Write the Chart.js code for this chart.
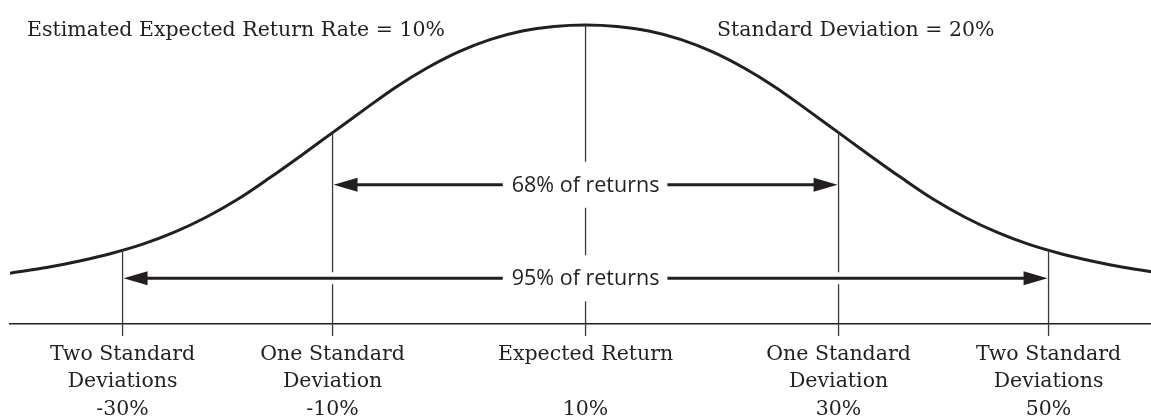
<!DOCTYPE html>
<html>
<head>
<meta charset="utf-8">
<script src="https://cdn.jsdelivr.net/npm/chart.js@4.4.1/dist/chart.umd.min.js"></script>
<style>
    html, body { margin: 0; padding: 0; background: #fff; }
    #wrap { width: 1151px; height: 420px; position: relative; }
</style>
</head>
<body>
<div id="wrap"><canvas id="returnsChart"></canvas></div>
<script>
// return (%) and relative height of the bell curve (peak = 100)
const returnPoints = [-35.5, -32.5, -30, -27.5, -25, -22.5, -20, -17.5, -15, -12.5, -10, -7.5, -5, -2.5, 0, 2.5, 5, 7.5,
    10, 12.5, 15, 17.5, 20, 22.5, 25, 27.5, 30, 32.5, 35, 37.5, 40, 42.5, 45, 47.5, 50, 52.5, 55.5];
const curveHeights = [17.0, 19.0, 21.1, 23.6, 26.7, 30.7, 35.7, 41.7, 48.8, 56.3, 64.0, 71.7, 79.2, 85.7, 91.1, 95.2, 98.0, 99.5,
    100, 99.5, 98.0, 95.2, 91.1, 85.7, 79.2, 71.7, 64.0, 56.3, 48.8, 41.7, 35.7, 30.7, 26.7, 23.6, 21.1, 19.0, 17.0];

// where the figure puts its guide lines, and their labels
const guideReturns = [-26.6, -10, 10, 30, 46.6];
const tickLabels = [
    ['Two Standard', 'Deviations', '-30%'],
    ['One Standard', 'Deviation', '-10%'],
    ['Expected Return', '', '10%'],
    ['One Standard', 'Deviation', '30%'],
    ['Two Standard', 'Deviations', '50%']
];

// ranges: label, height of the arrow, first and last guide
const bandLabels = ['68% of returns', '95% of returns'];
const bandLevels = [46.6, 15.3];
const bandFrom = [1, 0];
const bandTo = [3, 4];

const headerLeft = 'Estimated Expected Return Rate = 10%';
const headerRight = 'Standard Deviation = 20%';

const ink = '#231f20';
const serif = '"DejaVu Serif", "Liberation Serif", serif';
const sans = '"Open Sans", "Noto Sans", sans-serif';

function curveAt(v) {
    for (let i = 1; i < returnPoints.length; i++) {
        if (v <= returnPoints[i]) {
            const t = (v - returnPoints[i - 1]) / (returnPoints[i] - returnPoints[i - 1]);
            return curveHeights[i - 1] + t * (curveHeights[i] - curveHeights[i - 1]);
        }
    }
    return curveHeights[curveHeights.length - 1];
}

function arrowHead(ctx, x, y, dir) {
    ctx.beginPath();
    ctx.moveTo(x, y);
    ctx.lineTo(x + dir * 24, y - 7);
    ctx.lineTo(x + dir * 24, y + 7);
    ctx.closePath();
    ctx.fill();
}

const bellAnnotations = {
    id: 'bellAnnotations',
    afterDatasetsDraw(chart) {
        const ctx = chart.ctx;
        const xs = chart.scales.x;
        const ys = chart.scales.y;
        const axisY = ys.getPixelForValue(0);
        const tickEnd = axisY + 12;

        ctx.save();
        ctx.fillStyle = ink;
        ctx.strokeStyle = ink;

        // band label positions
        const bands = bandLabels.map((label, i) => {
            const x1 = xs.getPixelForValue(guideReturns[bandFrom[i]]);
            const x2 = xs.getPixelForValue(guideReturns[bandTo[i]]);
            return { label, x1, x2, mid: (x1 + x2) / 2, y: ys.getPixelForValue(bandLevels[i]), from: bandFrom[i], to: bandTo[i] };
        });

        // guide lines from the curve down past the axis
        ctx.lineWidth = 1.3;
        ctx.strokeStyle = '#3b3839';
        guideReturns.forEach((g, gi) => {
            const x = xs.getPixelForValue(g);
            const top = ys.getPixelForValue(curveAt(g));
            const gaps = [];
            bands.forEach(b => {
                if (gi > b.from && gi < b.to) {
                    const half = Math.abs(b.mid - x) < 3 ? 23 : 6;
                    gaps.push([b.y - half, b.y + half]);
                }
            });
            gaps.sort((a, b) => a[0] - b[0]);
            let y0 = top;
            ctx.beginPath();
            gaps.forEach(([a, b]) => {
                ctx.moveTo(x, y0);
                ctx.lineTo(x, a);
                y0 = b;
            });
            ctx.moveTo(x, y0);
            ctx.lineTo(x, tickEnd);
            ctx.stroke();
        });

        // arrows and their labels
        ctx.font = '21.5px ' + sans;
        ctx.textAlign = 'center';
        ctx.textBaseline = 'middle';
        ctx.lineWidth = 3;
        ctx.strokeStyle = ink;
        bands.forEach(b => {
            const w = ctx.measureText(b.label).width;
            ctx.beginPath();
            ctx.moveTo(b.x1 + 20, b.y);
            ctx.lineTo(b.mid - w / 2 - 9, b.y);
            ctx.moveTo(b.mid + w / 2 + 8, b.y);
            ctx.lineTo(b.x2 - 20, b.y);
            ctx.stroke();
            arrowHead(ctx, b.x1 + 1, b.y, 1);
            arrowHead(ctx, b.x2 - 1, b.y, -1);
            ctx.fillText(b.label, b.mid, b.y + 1);
        });

        // headers
        ctx.font = '20.5px ' + serif;
        ctx.textAlign = 'left';
        ctx.textBaseline = 'alphabetic';
        ctx.fillText(headerLeft, chart.chartArea.left + 17, 36);
        ctx.fillText(headerRight, 717, 36);
        ctx.restore();
    }
};

document.addEventListener('DOMContentLoaded', function () {
    const ctx = document.getElementById('returnsChart').getContext('2d');
    new Chart(ctx, {
        type: 'line',
        data: {
            datasets: [{
                label: 'Returns',
                data: returnPoints.map((r, i) => ({ x: r, y: curveHeights[i] })),
                borderColor: ink,
                borderWidth: 3,
                pointRadius: 0,
                fill: false,
                cubicInterpolationMode: 'monotone',
                clip: { left: 0, top: 5, right: 0, bottom: 0 }
            }]
        },
        options: {
            responsive: true,
            maintainAspectRatio: false,
            animation: false,
            layout: { padding: { left: 10, top: 25, right: 0, bottom: 0 } },
            plugins: {
                legend: { display: false },
                tooltip: { enabled: false }
            },
            scales: {
                x: {
                    type: 'linear',
                    min: -35.5,
                    max: 54.7,
                    grid: { display: false },
                    border: { display: true, color: ink, width: 1.5 },
                    afterBuildTicks: scale => {
                        scale.ticks = guideReturns.map(v => ({ value: v }));
                    },
                    afterFit: scale => {
                        scale.height = 96;
                    },
                    ticks: {
                        autoSkip: false,
                        maxRotation: 0,
                        padding: 8.5,
                        color: ink,
                        font: { family: serif, size: 20.5, lineHeight: '27.5px' },
                        callback: (value, index) => tickLabels[index]
                    }
                },
                y: {
                    display: false,
                    min: 0,
                    max: 100
                }
            }
        },
        plugins: [bellAnnotations]
    });
});
</script>
</body>
</html>
